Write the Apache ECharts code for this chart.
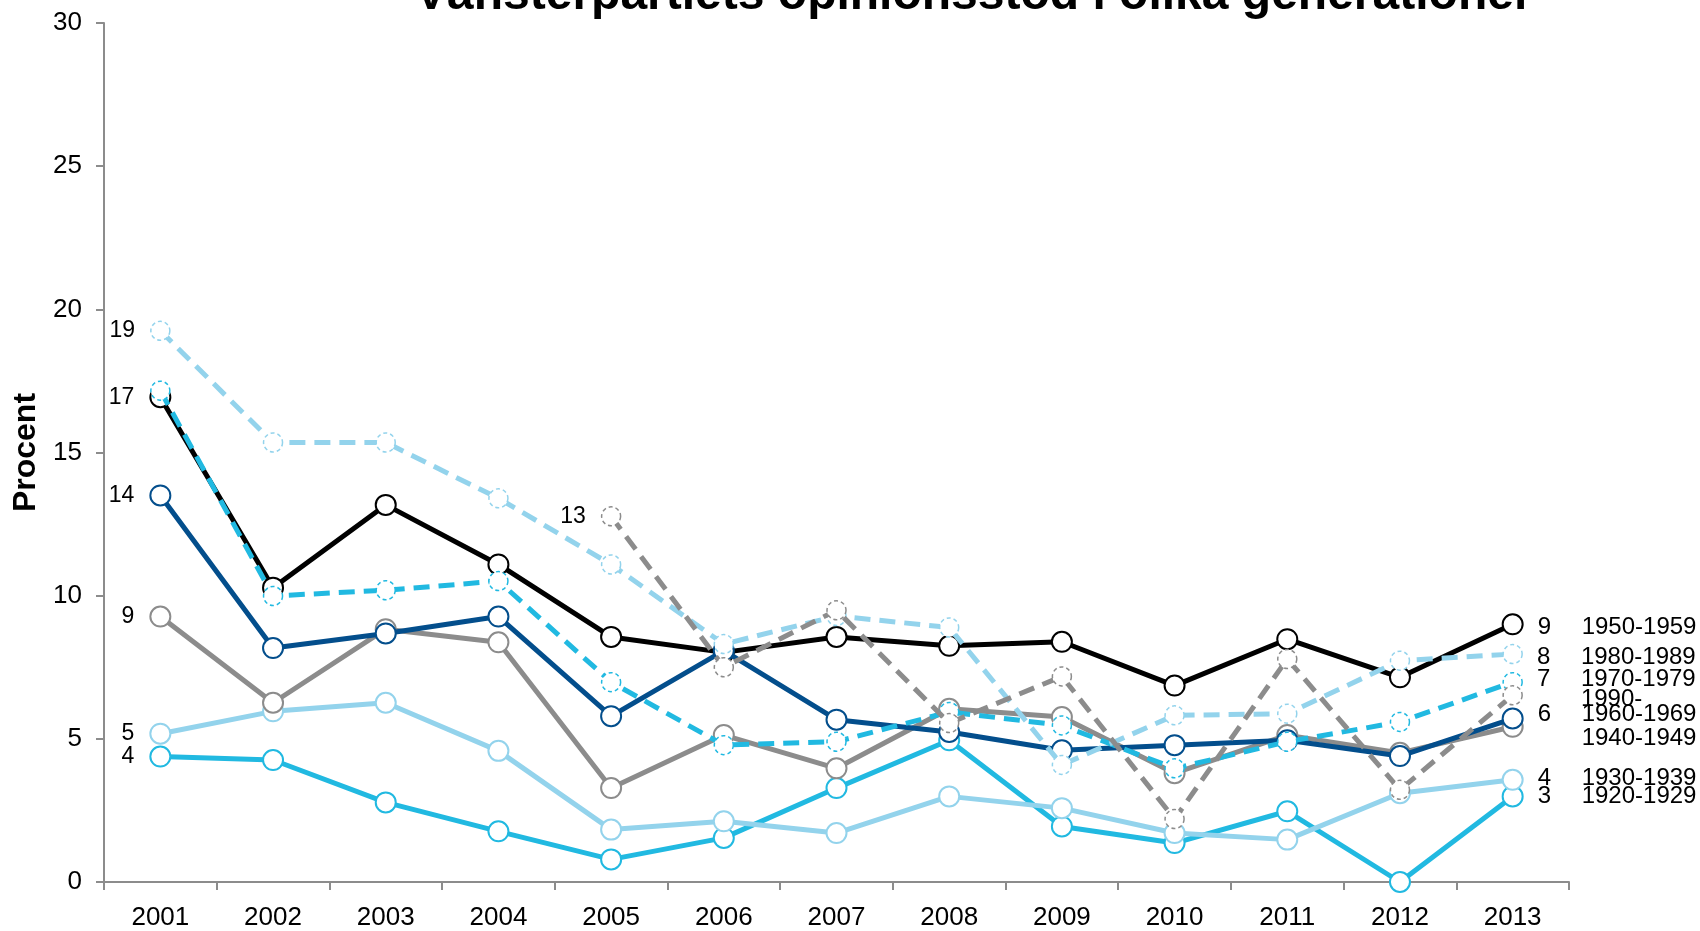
<!DOCTYPE html>
<html>
<head>
<meta charset="utf-8">
<script src="https://cdn.jsdelivr.net/npm/echarts@6/dist/echarts.min.js"></script>
<style>
html,body{margin:0;padding:0;background:#fff;}
#chart{width:1700px;height:931px;}
</style>
</head>
<body>
<div id="chart"></div>
<script>
const years = ['2001','2002','2003','2004','2005','2006','2007','2008','2009','2010','2011','2012','2013'];
const yTicks = [0, 5, 10, 15, 20, 25, 30];

const v1920 = [4.38, 4.26, 2.78, 1.77, 0.79, 1.54, 3.28, 4.95, 1.94, 1.36, 2.47, 0.0, 2.99];
const v1930 = [5.18, 5.96, 6.26, 4.58, 1.83, 2.12, 1.71, 2.99, 2.58, 1.71, 1.48, 3.10, 3.57];
const v1940 = [9.27, 6.26, 8.83, 8.37, 3.28, 5.13, 3.97, 6.05, 5.76, 3.80, 5.13, 4.51, 5.42];
const v1950 = [16.93, 10.28, 13.17, 11.09, 8.56, 8.02, 8.56, 8.25, 8.39, 6.86, 8.48, 7.15, 9.00];
const v1960 = [13.50, 8.17, 8.68, 9.27, 5.79, 8.08, 5.67, 5.24, 4.60, 4.78, 4.95, 4.40, 5.71];
const v1970 = [17.16, 9.99, 10.19, 10.51, 6.98, 4.78, 4.90, 5.94, 5.47, 3.97, 4.90, 5.59, 6.98];
const v1980 = [19.25, 15.35, 15.35, 13.40, 11.09, 8.31, 9.29, 8.89, 4.09, 5.82, 5.88, 7.73, 7.96];
const v1990 = [null, null, null, null, 12.77, 7.50, 9.49, 5.55, 7.18, 2.20, 7.79, 3.22, 6.52];

const seriesNames = ['1920-1929','1930-1939','1940-1949','1950-1959','1960-1969','1970-1979','1980-1989','1990-'];
const seriesValues = [v1920, v1930, v1940, v1950, v1960, v1970, v1980, v1990];
// which series show a number at the start / end
const showStartNum = [true, true, true, true, true, false, true, true];
const showEndNum   = [true, true, false, true, true, true, true, false];

// styling
const colors = ['#21B9E1', '#93D3EC', '#8C8C8C', '#000000', '#034E8C', '#21B9E1', '#93D3EC', '#8C8C8C'];
const dashed = [false, false, false, false, false, true, true, true];
const endDy = [0, -1, 12, 3, -4, -3, 3, 4];

const FONT = "'Liberation Sans', Arial, sans-serif";

function buildData(vals, idx) {
  let first = vals.findIndex(v => v !== null);
  let last = vals.length - 1;
  return vals.map((v, i) => {
    if (v === null) return null;
    if (i === first && showStartNum[idx]) {
      return { value: v, label: { show: true, position: 'left', distance: 15,
        formatter: String(Math.round(v)), fontSize: 23, color: '#000', fontFamily: FONT } };
    }
    if (i === last) {
      const num = showEndNum[idx] ? String(Math.round(v)) : ' ';
      return { value: v, label: { show: true, position: 'right', distance: 14,
        offset: [0, endDy[idx]],
        formatter: '{n|' + num + '}{s|' + seriesNames[idx] + '}',
        rich: { n: { fontSize: 24, width: 44, color: '#000', fontFamily: FONT },
                s: { fontSize: 24, color: '#000', fontFamily: FONT } } } };
    }
    return v;
  });
}

const series = seriesValues.map((vals, idx) => ({
  name: seriesNames[idx],
  type: 'line',
  data: buildData(vals, idx),
  clip: false,
  symbol: 'circle',
  symbolSize: dashed[idx] ? 19 : 20,
  connectNulls: false,
  lineStyle: { color: colors[idx], width: 5, type: dashed[idx] ? [16, 9] : 'solid' },
  itemStyle: { color: '#ffffff', borderColor: colors[idx], borderWidth: dashed[idx] ? 1.5 : 2,
               borderType: dashed[idx] ? [4, 3] : 'solid' },
  emphasis: { disabled: true },
  animation: false,
  z: 2 + idx
}));

const chart = echarts.init(document.getElementById('chart'));
chart.setOption({
  animation: false,
  backgroundColor: '#ffffff',
  title: {
    text: 'Vänsterpartiets opinionsstöd i olika generationer',
    left: 410, top: -33,
    textStyle: { fontSize: 48, fontWeight: 'bold', color: '#000', fontFamily: FONT }
  },
  grid: { left: 104, right: 131, top: 23, bottom: 44, containLabel: false },
  xAxis: {
    type: 'category',
    data: years,
    boundaryGap: true,
    axisLine: { lineStyle: { color: '#8C8C8C', width: 2 } },
    axisTick: { show: true, interval: 0, length: 8, lineStyle: { color: '#8C8C8C', width: 2 } },
    axisLabel: { fontSize: 26, color: '#000', margin: 23, fontFamily: FONT, interval: 0 },
    splitLine: { show: false }
  },
  yAxis: {
    type: 'value',
    min: yTicks[0], max: yTicks[yTicks.length - 1], interval: 5,
    name: 'Procent',
    nameLocation: 'middle',
    nameGap: 60,
    nameTextStyle: { fontSize: 32, fontWeight: 'bold', color: '#000', fontFamily: FONT },
    axisLine: { show: true, lineStyle: { color: '#8C8C8C', width: 2 } },
    axisTick: { show: true, length: 8, lineStyle: { color: '#8C8C8C', width: 2 } },
    axisLabel: { fontSize: 26, color: '#000', margin: 22, fontFamily: FONT },
    splitLine: { show: false }
  },
  series: series
});
</script>
</body>
</html>
